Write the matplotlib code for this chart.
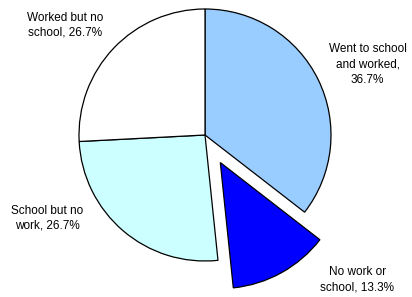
import matplotlib
matplotlib.use("Agg")
import matplotlib.pyplot as plt

categories = ["Went to school\nand worked", "No work or\nschool", "School but no\nwork", "Worked but no\nschool"]
values = [36.7, 13.3, 26.7, 26.7]
colors = ["#99CCFF", "#0000FF", "#CCFFFF", "#FFFFFF"]
explode = [0, 0.25, 0, 0]

# label layout (in radius units, relative to pie center)
label_pos = [(1.29, 0.56), (1.21, -1.15), (-1.25, -0.66), (-1.11, 0.87)]
label_sep = [",\n", ", ", ", ", ", "]

W, H = 412, 297
fig = plt.figure(figsize=(W / 100, H / 100), dpi=100)
ax = fig.add_axes([0, 0, 1, 1])
cx, cy, r = 205, 135, 126

ax.pie(values, colors=colors, explode=explode, startangle=90, counterclock=False,
       wedgeprops=dict(edgecolor="black", linewidth=0.9))

for cat, v, sep, (x, y) in zip(categories, values, label_sep, label_pos):
    ax.text(x, y, f"{cat}{sep}{v:.1f}%", ha="center", va="center", fontsize=8.5,
            family="Liberation Sans", linespacing=1.35)

ax.set_xlim(-cx / r, (W - cx) / r)
ax.set_ylim(-(H - cy) / r, cy / r)
ax.set_aspect("auto")
ax.axis("off")
fig.savefig("out.png", dpi=100)
